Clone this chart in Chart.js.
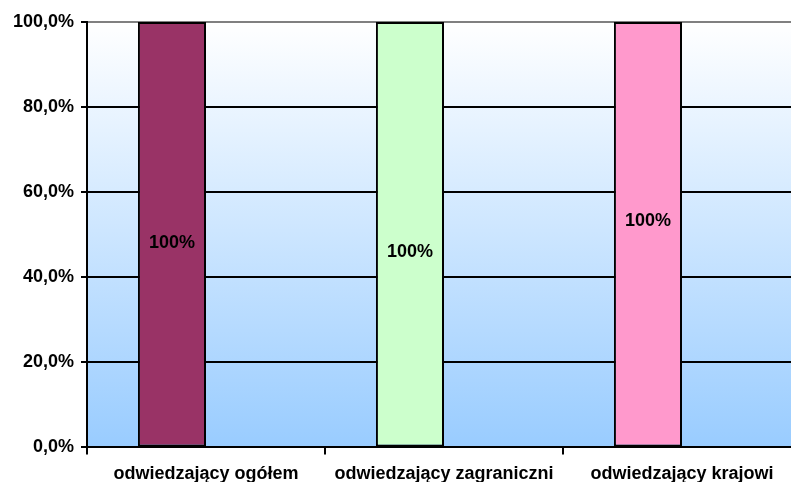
<!DOCTYPE html>
<html>
<head>
<meta charset="utf-8">
<script src="https://cdn.jsdelivr.net/npm/chart.js@4/dist/chart.umd.min.js"></script>
<style>
  html, body { margin: 0; padding: 0; background: #fff; overflow: hidden; }
  #wrap { width: 791px; height: 482px; overflow: hidden; }
</style>
</head>
<body>
<div id="wrap"><canvas id="grafica" width="815" height="494"></canvas></div>
<script>
const kategorie = ['odwiedzający ogółem', 'odwiedzający zagraniczni', 'odwiedzający krajowi'];
const wartosci = [100, 100, 100];
const etykiety = ['100%', '100%', '100%'];
const kolory = ['#993366', '#CCFFCC', '#FF99CC'];
const poziomEtykiet = [48, 46, 53.3];

const czcionka = '"Liberation Sans", Arial, Helvetica, sans-serif';

const tloGradient = {
  id: 'tloGradient',
  beforeDraw(chart) {
    const { ctx, chartArea: a } = chart;
    const g = ctx.createLinearGradient(0, a.top, 0, a.bottom);
    g.addColorStop(0, '#ffffff');
    g.addColorStop(1, '#99ccff');
    ctx.save();
    ctx.fillStyle = g;
    ctx.fillRect(a.left, a.top, a.right - a.left, a.bottom - a.top);
    ctx.restore();
  }
};

const etykietySlupkow = {
  id: 'etykietySlupkow',
  afterDatasetsDraw(chart) {
    const { ctx } = chart;
    const meta = chart.getDatasetMeta(0);
    const y = chart.scales.y;
    ctx.save();
    ctx.font = 'bold 18px ' + czcionka;
    ctx.fillStyle = '#000';
    ctx.textAlign = 'center';
    ctx.textBaseline = 'middle';
    meta.data.forEach((bar, i) => {
      ctx.fillText(etykiety[i], bar.x, y.getPixelForValue(poziomEtykiet[i]));
    });
    ctx.restore();
  }
};

const ctx = document.getElementById('grafica').getContext('2d');
new Chart(ctx, {
  type: 'bar',
  data: {
    labels: kategorie,
    datasets: [{
      data: wartosci,
      backgroundColor: kolory,
      borderColor: '#000',
      borderWidth: 2,
      borderSkipped: false,
      barPercentage: 1,
      categoryPercentage: 0.572
    }, {
      data: [null, null, null],
      barPercentage: 1,
      categoryPercentage: 0.572
    }]
  },
  options: {
    responsive: false,
    animation: false,
    layout: { padding: { top: 22, right: 14, left: 0, bottom: 0 } },
    plugins: { legend: { display: false }, tooltip: { enabled: false } },
    scales: {
      x: {
        grid: {
          offset: true,
          drawOnChartArea: false,
          drawTicks: true,
          tickLength: 7,
          color: '#000',
          lineWidth: 2
        },
        border: { color: '#000', width: 2 },
        ticks: {
          color: '#000',
          padding: 9,
          maxRotation: 0,
          font: { family: czcionka, size: 18, weight: 'bold' }
        }
      },
      y: {
        min: 0,
        max: 100,
        afterFit(s) { s.width = 87; },
        grid: {
          color: c => (c.tick && c.tick.value === 100) ? '#808080' : '#000',
          lineWidth: 2,
          tickLength: 6,
          tickColor: '#000'
        },
        border: { color: '#000', width: 2 },
        ticks: {
          stepSize: 20,
          color: '#000',
          padding: 7,
          font: { family: czcionka, size: 18, weight: 'bold' },
          callback: v => v.toFixed(1).replace('.', ',') + '%'
        }
      }
    }
  },
  plugins: [tloGradient, etykietySlupkow]
});
</script>
</body>
</html>
